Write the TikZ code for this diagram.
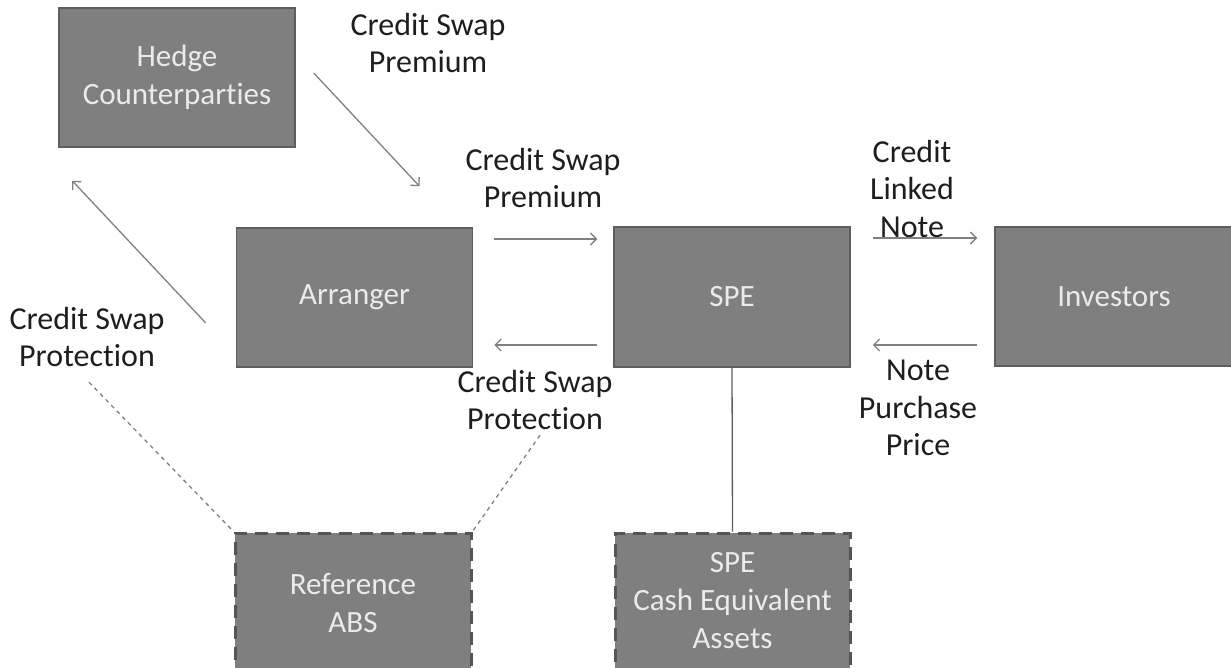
\documentclass[tikz,border=0pt]{standalone}
\usepackage{fontspec}
\setmainfont{Carlito}[Ligatures=NoCommon]
\usetikzlibrary{arrows.meta,positioning}
\definecolor{boxgray}{HTML}{7F7F7F}
\definecolor{edgegray}{HTML}{5E5E5E}
\definecolor{dashgray}{HTML}{555555}
\definecolor{boxtext}{HTML}{EBEBEB}
\definecolor{inkgray}{HTML}{1E1E1E}
\definecolor{arrowgray}{HTML}{808080}
\begin{document}
\begin{tikzpicture}[
    x=1pt, y=-1pt,
    party/.style={draw=edgegray, line width=1.5pt, fill=boxgray, text=boxtext, align=center,
      font=\fontsize{31}{38}\selectfont, minimum width=236pt, minimum height=139pt, inner sep=0pt},
    asset/.style={party, draw=dashgray, line width=3pt, dash pattern=on 13pt off 8pt, minimum height=170pt},
    intext/.style={text=boxtext, align=center, font=\fontsize{31}{38}\selectfont, inner sep=0pt},
    lbl/.style={text=inkgray, align=center, font=\fontsize{32}{37.5}\selectfont, inner sep=0pt},
    flow/.style={draw=arrowgray, line width=1.3pt, -{Straight Barb[length=6pt,width=12pt]}},
    link/.style={draw=arrowgray, line width=1.3pt, dash pattern=on 4pt off 4pt},
    tie/.style={draw=edgegray, line width=1.3pt},
  ]
    \useasboundingbox (0,0) rectangle (1231,667);
    \clip (0,0) rectangle (1231,667);

    \node[party] (hedge)  at (177,77.5)  {Hedge\\Counterparties};
    \node[party] (arr)    at (354.5,297.5) {Arranger};
    \node[party, minimum height=140pt] (spe) at (732,297) {SPE};
    \node[party, minimum width=238pt] (inv) at (1114,296.5) {Investors};

    \node[asset] (refabs) at (353,618) {};
    \node[asset, minimum width=235pt] (cash) at (732.5,618) {};
    \node[intext, below=42pt of refabs.north] (reftxt) {Reference\\ABS};
    \node[intext, below=21pt of cash.north] (cashtxt) {SPE\\Cash Equivalent\\Assets};

    \node[lbl] (cspA)  at (428,43)  {Credit Swap\\Premium};
    \node[lbl] (cspB)  at (543,178) {Credit Swap\\Premium};
    \node[lbl] (cln)   at (912,189) {Credit\\Linked\\Note};
    \node[lbl] (prot1) at (87,337)  {Credit Swap\\Protection};
    \node[lbl] (prot2) at (535,400) {Credit Swap\\Protection};
    \node[lbl] (npp)   at (918,408) {Note\\Purchase\\Price};

    % premium and protection with the hedge counterparties
    \draw[flow] ([shift={(18,-4.5)}]hedge.east) -- ([shift={(65,-41)}]arr.north);
    \draw[flow] ([shift={(-30,25.5)}]arr.west) -- ([shift={(14,33)}]hedge.south west);

    % arranger <-> SPE
    \draw[flow] ([shift={(21,-58.5)}]arr.east) -- ([shift={(-16,-58)}]spe.west);
    \draw[flow] ([shift={(-16,48)}]spe.west) -- ([shift={(21,47.5)}]arr.east);

    % SPE <-> investors
    \draw[flow] ([shift={(22,-59)}]spe.east) -- ([shift={(-17,-58.5)}]inv.west);
    \draw[flow] ([shift={(-17,48.5)}]inv.west) -- ([shift={(22,48)}]spe.east);

    \draw[tie] (spe.south) -- (cash.north);
    \draw[link] ([shift={(2,15)}]prot1.south) -- (refabs.north west);
    \draw[link] ([shift={(5,5)}]prot2.south) -- (refabs.north east);
  \end{tikzpicture}
\end{document}
